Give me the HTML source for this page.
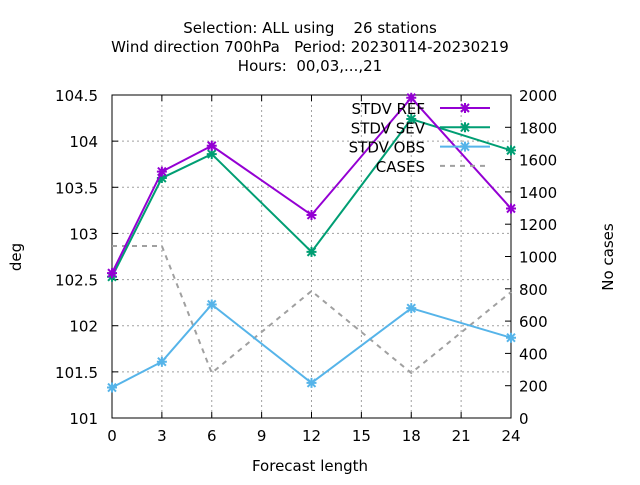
<!DOCTYPE html>
<html><head><meta charset="utf-8"><style>body{margin:0;background:#fff}svg{font-family:"DejaVu Sans","Liberation Sans",sans-serif}</style></head>
<body>
<svg id="chart" width="640" height="480" xmlns="http://www.w3.org/2000/svg">
<g font-size="15" text-anchor="middle">
<text x="310" y="33" xml:space="preserve">Selection: ALL using    26 stations</text>
<text x="310" y="52" xml:space="preserve">Wind direction 700hPa   Period: 20230114-20230219</text>
<text x="310" y="71" xml:space="preserve">Hours:  00,03,...,21</text>
</g>
<g id="grid"></g>
<g id="axes"></g>
<g id="series"></g>
<text x="310" y="471" font-size="15" text-anchor="middle">Forecast length</text>
<text x="21" y="257" font-size="15" text-anchor="middle" transform="rotate(-90 21 257)">deg</text>
<text x="613" y="257" font-size="15" text-anchor="middle" transform="rotate(-90 613 257)">No cases</text>
<g id="legend"></g>
</svg>
<script>
const xTicks=[0,3,6,9,12,15,18,21,24];
const yTicks=[101,101.5,102,102.5,103,103.5,104,104.5];
const yTickLabels=["101","101.5","102","102.5","103","103.5","104","104.5"];
const y2Ticks=[0,200,400,600,800,1000,1200,1400,1600,1800,2000];
const leads=[0,3,6,12,18,24];
const stdvRef=[102.57,103.67,103.95,103.2,104.47,103.27];
const stdvSev=[102.53,103.6,103.86,102.8,104.24,103.9];
const stdvObs=[101.33,101.61,102.23,101.38,102.19,101.87];
const cases=[1065,1065,279,786,279,780];
const L=112,R=511,T=95,B=418;
const sx=v=>L+(v-0)/24*(R-L);
const sy=v=>B-(v-101)/3.5*(B-T);
const sy2=v=>B-v/2000*(B-T);
const NS="http://www.w3.org/2000/svg";
function mk(t,a,p){const e=document.createElementNS(NS,t);for(const k in a)e.setAttribute(k,a[k]);p.appendChild(e);return e;}
const grid=document.getElementById('grid'),axes=document.getElementById('axes'),series=document.getElementById('series'),legend=document.getElementById('legend');
xTicks.forEach(v=>{const x=sx(v);
 if(v>0&&v<24){const g=mk('line',{x1:x,x2:x,y1:T,y2:B,stroke:'#a0a0a0','stroke-dasharray':'2,3','stroke-width':1},grid);
 
 }
 mk('line',{x1:x,x2:x,y1:B,y2:B-6,stroke:'#000'},axes);mk('line',{x1:x,x2:x,y1:T,y2:T+6,stroke:'#000'},axes);
 const t=mk('text',{x:x,y:B+23,'font-size':15,'text-anchor':'middle'},axes);t.textContent=v;
 
 });
yTicks.forEach((v,i)=>{const y=sy(v);
 if(i>0&&i<yTicks.length-1){const g=mk('line',{x1:L,x2:R,y1:y,y2:y,stroke:'#a0a0a0','stroke-dasharray':'2,3','stroke-width':1},grid);
 
 }
 mk('line',{x1:L,x2:L+6,y1:y,y2:y,stroke:'#000'},axes);
 const t=mk('text',{x:L-14,y:y+6,'font-size':15,'text-anchor':'end'},axes);t.textContent=yTickLabels[i];
 
 });
y2Ticks.forEach(v=>{const y=sy2(v);
 mk('line',{x1:R,x2:R-6,y1:y,y2:y,stroke:'#000'},axes);
 const t=mk('text',{x:R+8,y:y+6,'font-size':15},axes);t.textContent=v;
 
 });
mk('rect',{x:L,y:T,width:R-L,height:B-T,fill:'none',stroke:'#000'},axes);
function star(x,y,c,p){mk('path',{d:`M${x-4} ${y-4}L${x+4} ${y+4}M${x-4} ${y+4}L${x+4} ${y-4}M${x-5} ${y}L${x+5} ${y}M${x} ${y-5}L${x} ${y+5}`,stroke:c,'stroke-width':2},p);}
const cl=mk('polyline',{points:leads.map((l,i)=>sx(l)+','+sy2(cases[i])).join(' '),fill:'none',stroke:'#a0a0a0','stroke-width':2,'stroke-dasharray':'5,5'},series);


[[stdvObs,'#56b4e9','stdv-obs-line'],[stdvSev,'#009e73','stdv-sev-line'],[stdvRef,'#9400d3','stdv-ref-line']].forEach(([d,c,n])=>{
 const g=mk('g',{},series);
 
 
 mk('polyline',{points:leads.map((l,i)=>sx(l)+','+sy(d[i])).join(' '),fill:'none',stroke:c,'stroke-width':2},g);
 leads.forEach((l,i)=>star(sx(l),sy(d[i]),c,g));});
[['STDV REF','#9400d3',1],['STDV SEV','#009e73',1],['STDV OBS','#56b4e9',1],['CASES','#a0a0a0',0]].forEach(([n,c,m],i)=>{
 const y=108+i*19.3;const g=mk('g',{},legend);
 
 
 const t=mk('text',{x:425,y:y+6,'font-size':15,'text-anchor':'end'},g);t.textContent=n;
 mk('line',{x1:440,x2:490,y1:y,y2:y,stroke:c,'stroke-width':2,'stroke-dasharray':m?'none':'5,5'},g);
 if(m)star(465,y,c,g);});
</script>
</body></html>
